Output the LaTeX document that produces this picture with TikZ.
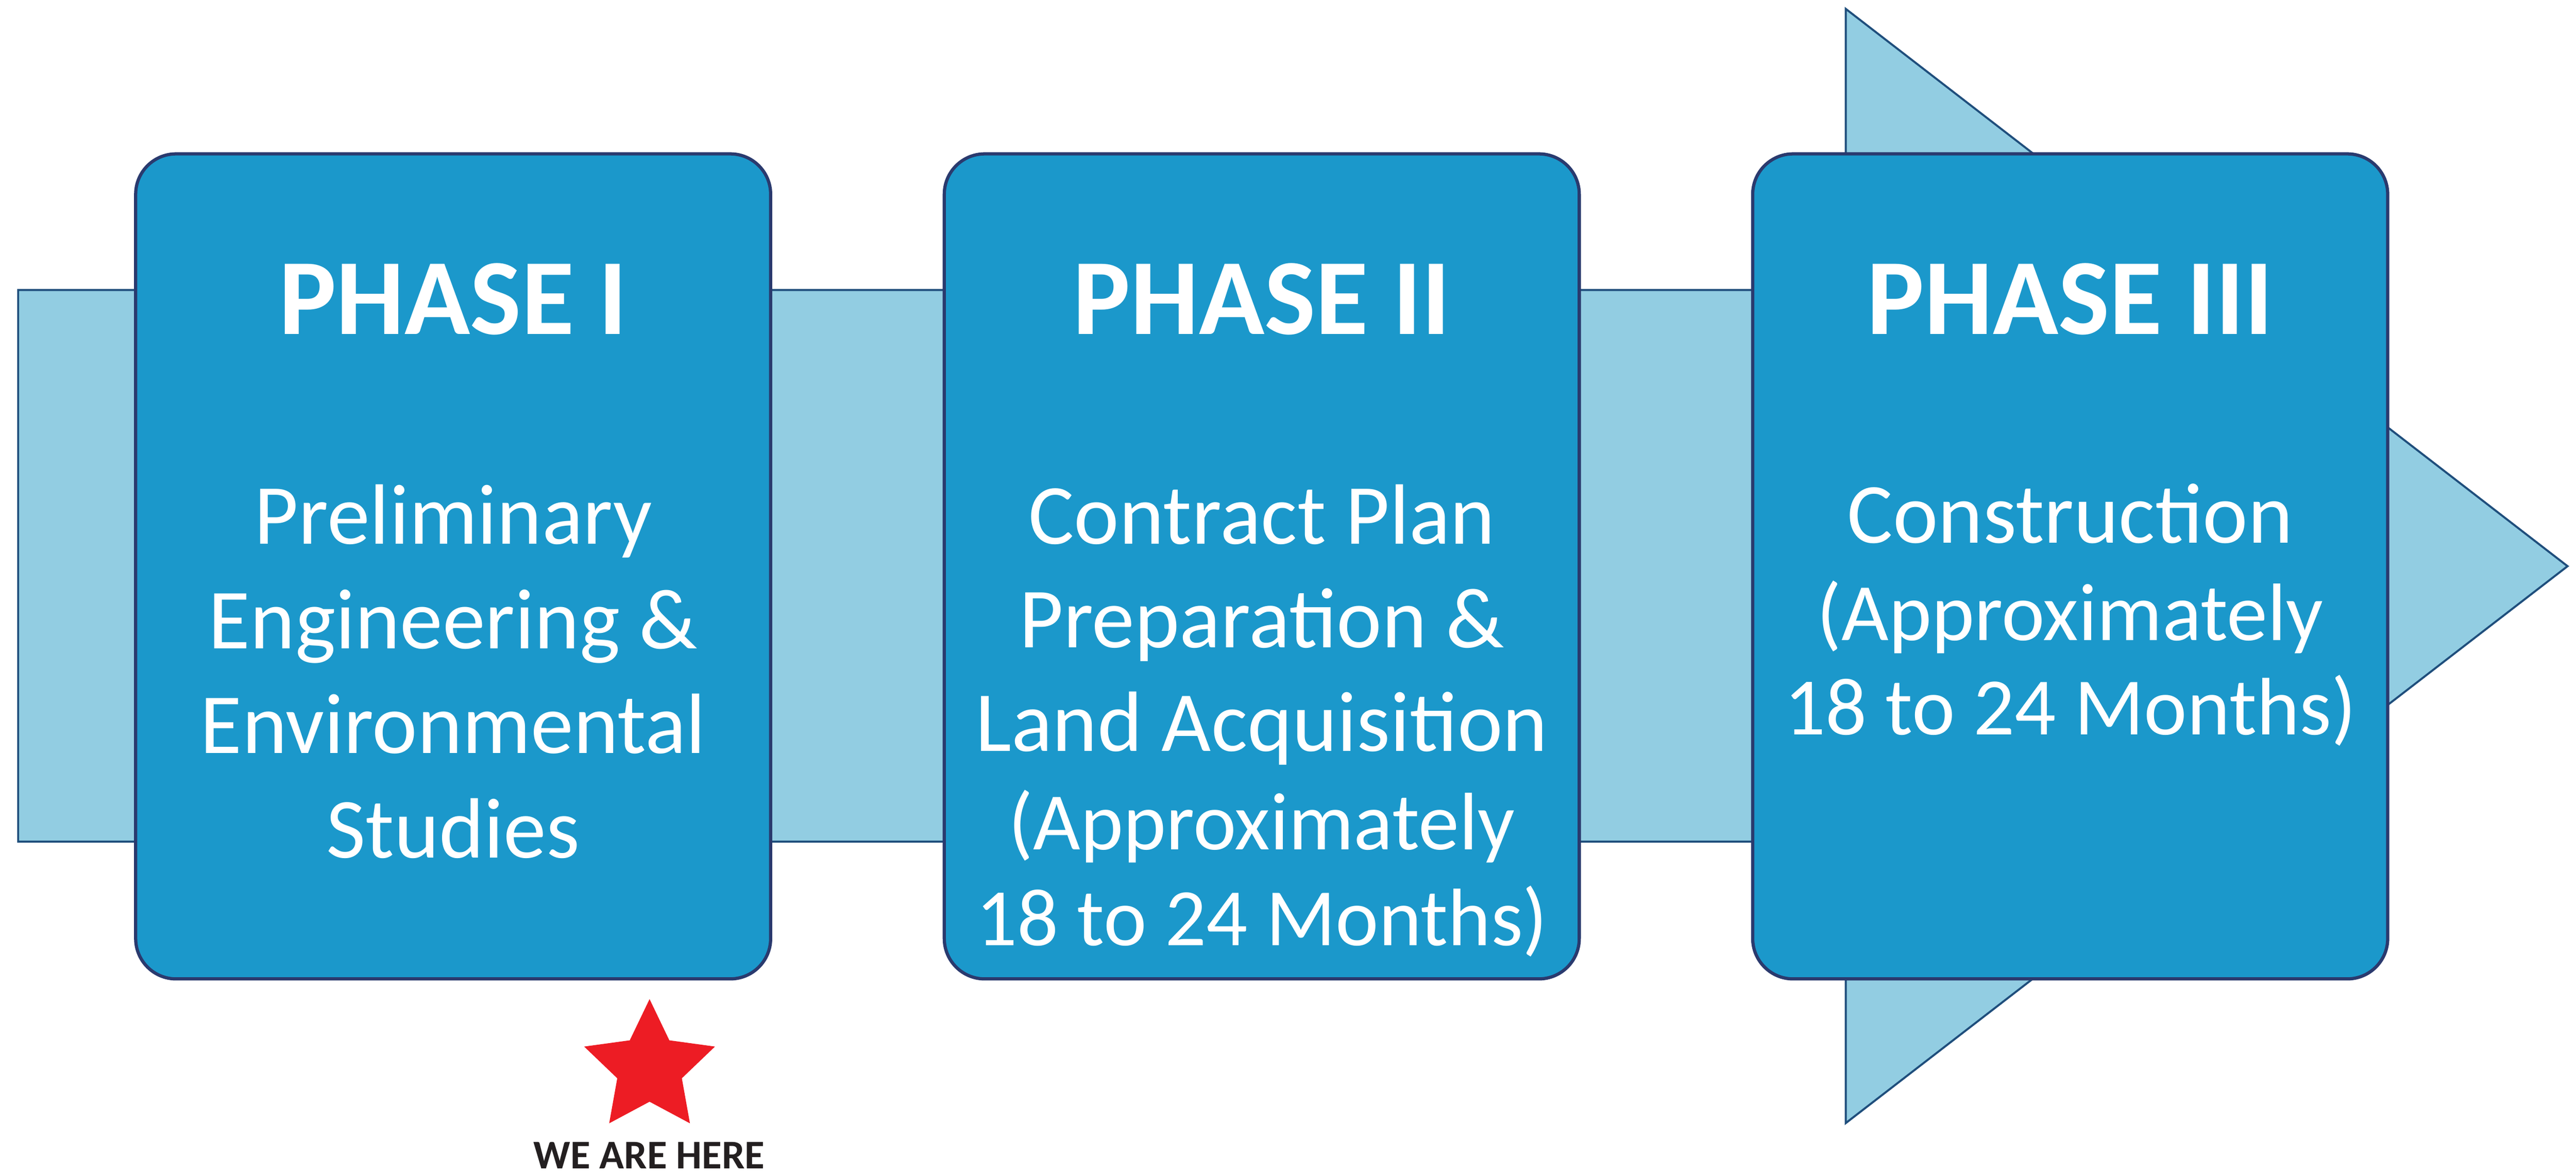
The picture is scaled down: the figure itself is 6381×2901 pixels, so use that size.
\documentclass[tikz,border=0pt]{standalone}
\usepackage{fontspec}
\setmainfont{Carlito}
\definecolor{bandfill}{HTML}{92CDE2}
\definecolor{bandline}{HTML}{1F4E7C}
\definecolor{boxfill}{HTML}{1B98CB}
\definecolor{boxline}{HTML}{2A3A6E}
\definecolor{starred}{HTML}{ED1C24}
\definecolor{herecol}{HTML}{231F20}
\tikzset{
  phasebox/.style={draw=boxline, fill=boxfill, line width=0.8pt, rounded corners=10pt,
    minimum width=157.3pt, minimum height=204.3pt, inner sep=0pt},
  phasetitle/.style={anchor=base, text=white, inner sep=0pt,
    font=\bfseries\fontsize{26.8pt}{30pt}\selectfont},
  phasebody/.style={anchor=base, text=white, inner sep=0pt, text width=190pt, align=flush center,
    font=\fontsize{21.2pt}{25.9pt}\selectfont},
  phasenote/.style={anchor=base, text=white, inner sep=0pt, text width=190pt, align=flush center},
}
\begin{document}
\begin{tikzpicture}[x=0.1pt, y=-0.1pt]
\useasboundingbox (0,0) rectangle (6381,2901);
% big arrow
\draw[fill=bandfill, draw=bandline, line width=0.5pt, line join=miter]
  (45,718) -- (4572,718) -- (4572,22) -- (6360,1402) -- (4572,2781) -- (4572,2084) -- (45,2084) -- cycle;
% boxes
\node[phasebox] (p1) at (1122.5,1402.5) {};
\node[phasebox] (p2) at (3125.5,1402.5) {};
\node[phasebox] (p3) at (5128,1402.5) {};
% titles
\node[phasetitle] (t1) at (1122.5,828) {PHASE I};
\node[phasetitle] (t2) at (3125.5,828) {PHASE II};
\node[phasetitle] (t3) at (5128,828) {PHASE III};
% bodies
\node[phasebody] (b1) at (1122.5,1347) {Preliminary\\Engineering \&\\Environmental\\Studies};
\node[phasebody, font=\fontsize{21.2pt}{25.65pt}\selectfont] (b2) at (3125.5,1347) {Contract Plan\\Preparation \&\\Land Acquisition};
\node[phasenote, font=\fontsize{20.2pt}{23.7pt}\selectfont] (b2n) at (3125.5,2104) {(Approximately\\18 to 24 Months)};
\node[phasebody] (b3) at (5128,1345) {Construction};
\node[phasenote, font=\fontsize{20.2pt}{23.3pt}\selectfont] (b3n) at (5128,1586) {(Approximately\\18 to 24 Months)};
% star
\fill[starred] (1609,2474) -- (1658,2576) -- (1771,2591.5) -- (1689,2670) -- (1709,2781.5)
  -- (1609,2728) -- (1509,2781.5) -- (1529,2670) -- (1447,2591.5) -- (1560,2576) -- cycle;
\node[anchor=base, inner sep=0pt, text=herecol, font=\bfseries\fontsize{10.1pt}{12pt}\selectfont] (here) at (1608,2894) {WE ARE HERE};
\end{tikzpicture}
\end{document}
